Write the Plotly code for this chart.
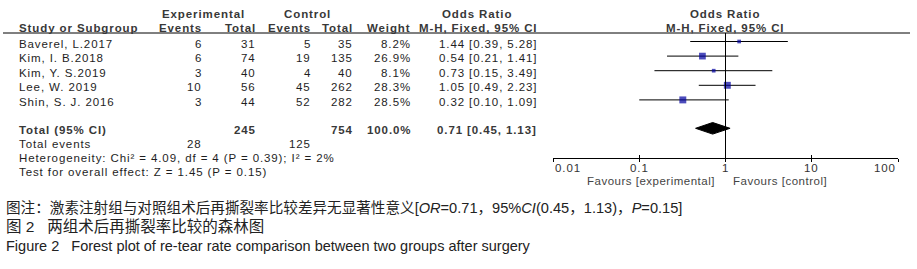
import math
import plotly.graph_objects as go

# ---------------- data ----------------
studies = ["Baverel, L.2017", "Kim, I. B.2018", "Kim, Y. S.2019", "Lee, W. 2019", "Shin, S. J. 2016"]
exp_events = [6, 6, 3, 10, 3]
exp_total = [31, 74, 40, 56, 44]
ctl_events = [5, 19, 4, 45, 52]
ctl_total = [35, 135, 40, 262, 282]
weights = [8.2, 26.9, 8.1, 28.3, 28.5]
or_vals = [1.44, 0.54, 0.73, 1.05, 0.32]
ci_lo = [0.39, 0.21, 0.15, 0.49, 0.10]
ci_hi = [5.28, 1.41, 3.49, 2.23, 1.09]

total_exp = 245
total_ctl = 754
total_weight = 100.0
total_or = 0.71
total_lo = 0.45
total_hi = 1.13
total_exp_events = 28
total_ctl_events = 125
heterogeneity = "Heterogeneity: Chi² = 4.09, df = 4 (P = 0.39); I² = 2%"
overall_test = "Test for overall effect: Z = 1.45 (P = 0.15)"

tick_vals = [0.01, 0.1, 1, 10, 100]
tick_text = ["0.01", "0.1", "1", "10", "100"]

NB = "\u00a0"
caption1 = "图注：激素注射组与对照组术后再撕裂率比较差异无显著性意义[<i>OR</i>=0.71，95%<i>CI</i>(0.45，1.13)，<i>P</i>=0.15]"
caption2 = "图" + NB + "2" + NB * 3 + "两组术后再撕裂率比较的森林图"
caption3 = "Figure" + NB + "2" + NB * 3 + "Forest plot of re-tear rate comparison between two groups after surgery"

# ---------------- layout helpers ----------------
W, H = 917, 269
FONT = "Liberation Sans, Arial, sans-serif"
CJK = "Liberation Sans, Noto Sans CJK SC, sans-serif"
FS = 11.5
LS = 0.9
BODY = "#1e1e1e"
HEAD = "#383838"

TOP = 41.5
ROW_H = 14.6
row_y = [TOP + i * ROW_H for i in range(len(studies))]
total_y = 128.3
TXT_OFF = 2.0

def px(x):
    return x / W

def spaced(s, ls=LS):
    return f'<span style="letter-spacing:{ls}px">{s}</span>'

fig = go.Figure()

# CI lines
xs, ys = [], []
for lo, hi, y in zip(ci_lo, ci_hi, row_y):
    xs += [lo, hi, None]
    ys += [y, y, None]
fig.add_trace(go.Scatter(x=xs, y=ys, mode="lines", line=dict(color="#000000", width=1),
                         hoverinfo="skip", xaxis="x", yaxis="y"))

# squares
fig.add_trace(go.Scatter(x=or_vals, y=row_y, mode="markers",
                         marker=dict(symbol="square", color="#0000a0",
                                     size=[1.3 * w ** 0.5 for w in weights], line=dict(width=0)),
                         xaxis="x", yaxis="y"))

# diamond
dh = 5.8
fig.add_trace(go.Scatter(x=[total_lo, total_or, total_hi, total_or, total_lo],
                         y=[total_y, total_y - dh, total_y, total_y + dh, total_y],
                         mode="lines", fill="toself", fillcolor="#000000",
                         line=dict(color="#000000", width=1), xaxis="x", yaxis="y"))

# line of no effect
fig.add_shape(type="line", xref="x", yref="y", x0=1, x1=1, y0=33, y1=157.5,
              line=dict(color="#000000", width=1))
# header rule
fig.add_shape(type="line", xref="paper", yref="y", x0=px(3), x1=px(910), y0=33, y1=33,
              line=dict(color="#000000", width=1))

ann = []
def txt(x, y, s, anchor="left", bold=False, color=None, size=FS, family=FONT, ls=LS):
    ann.append(dict(x=px(x), y=y, xref="paper", yref="y",
                    text=spaced(s, ls) if ls else s, showarrow=False,
                    xanchor=anchor, yanchor="middle",
                    font=dict(family=family, size=size, color=color or (HEAD if bold else BODY),
                              weight="bold" if bold else "normal")))

# headers
txt(203, 14, "Experimental", "center", True)
txt(307, 14, "Control", "center", True)
txt(477, 14, "Odds Ratio", "center", True)
txt(725, 14, "Odds Ratio", "center", True)
y2 = 27.5
txt(17, y2, "Study or Subgroup", "left", True)
txt(204, y2, "Events", "right", True)
txt(258, y2, "Total", "right", True)
txt(313, y2, "Events", "right", True)
txt(355, y2, "Total", "right", True)
txt(413, y2, "Weight", "right", True)
txt(539, y2, "M-H, Fixed, 95% CI", "right", True)
txt(725, y2, "M-H, Fixed, 95% CI", "center", True)

# study rows
for i, s in enumerate(studies):
    y = row_y[i] + TXT_OFF
    txt(17, y, s)
    txt(204, y, str(exp_events[i]), "right")
    txt(258, y, str(exp_total[i]), "right")
    txt(313, y, str(ctl_events[i]), "right")
    txt(355, y, str(ctl_total[i]), "right")
    txt(413, y, f"{weights[i]:.1f}%", "right")
    txt(539, y, f"{or_vals[i]:.2f} [{ci_lo[i]:.2f}, {ci_hi[i]:.2f}]", "right")

# total row
ty = total_y + 1.2
txt(17, ty, "Total (95% CI)", "left", True)
txt(258, ty, str(total_exp), "right", True)
txt(355, ty, str(total_ctl), "right", True)
txt(413, ty, f"{total_weight:.1f}%", "right", True)
txt(539, ty, f"{total_or:.2f} [{total_lo:.2f}, {total_hi:.2f}]", "right", True)

txt(17, 143.5, "Total events")
txt(204, 143.5, str(total_exp_events), "right")
txt(313, 143.5, str(total_ctl_events), "right")
txt(17, 157.5, heterogeneity)
txt(17, 171.5, overall_test)

# axis tick labels (annotation x on a log axis is given in log10 units)
for v, t in zip(tick_vals, tick_text):
    anc = "left" if v == tick_vals[0] else ("right" if v == tick_vals[-1] else "center")
    ann.append(dict(x=math.log10(v), y=168, xref="x", yref="y", text=spaced(t, 0.9),
                    showarrow=False, xanchor=anc, yanchor="middle",
                    font=dict(family=FONT, size=11.5, color="#333333")))
ann.append(dict(x=0, y=181, xref="x", yref="y", text=spaced("Favours [experimental]", 0.5),
                showarrow=False, xanchor="right", yanchor="middle", xshift=-9,
                font=dict(family=FONT, size=11.5, color="#444444")))
ann.append(dict(x=0, y=181, xref="x", yref="y", text=spaced("Favours [control]", 0.5),
                showarrow=False, xanchor="left", yanchor="middle", xshift=5,
                font=dict(family=FONT, size=11.5, color="#444444")))

# captions
txt(4, 207, caption1, "left", False, "#222222", 14.6, CJK, 0)
txt(4, 226.5, caption2, "left", False, "#222222", 15.5, CJK, 0)
txt(4, 245.5, caption3, "left", False, "#222222", 14.5, FONT, 0)

axis_pos = 1 - 157.5 / H
fig.update_layout(
    width=W, height=H, margin=dict(l=0, r=0, t=0, b=0),
    paper_bgcolor="#ffffff", plot_bgcolor="rgba(0,0,0,0)", showlegend=False,
    annotations=ann,
    xaxis=dict(type="log", range=[-2, 2], domain=[px(553), px(898)], anchor="free",
               position=axis_pos, showline=True, linecolor="#000000", linewidth=1,
               ticks="outside", ticklen=3, tickcolor="#000000", tickvals=tick_vals,
               showticklabels=False, showgrid=False, zeroline=False, fixedrange=True),
    xaxis2=dict(type="log", range=[-2, 2], domain=[px(553), px(898)], anchor="free",
                position=axis_pos, overlaying="x", ticks="inside", ticklen=3,
                tickcolor="#000000", tickvals=tick_vals, showticklabels=False,
                showgrid=False, zeroline=False, showline=False),
    yaxis=dict(range=[H, 0], domain=[0, 1], visible=False, fixedrange=True),
)
fig.add_trace(go.Scatter(x=[1], y=[157.5], mode="markers", marker=dict(opacity=0),
                         xaxis="x2", yaxis="y", hoverinfo="skip"))

fig.write_html("out.html", config={"displayModeBar": False},
               post_script="document.body.style.margin='0';")
